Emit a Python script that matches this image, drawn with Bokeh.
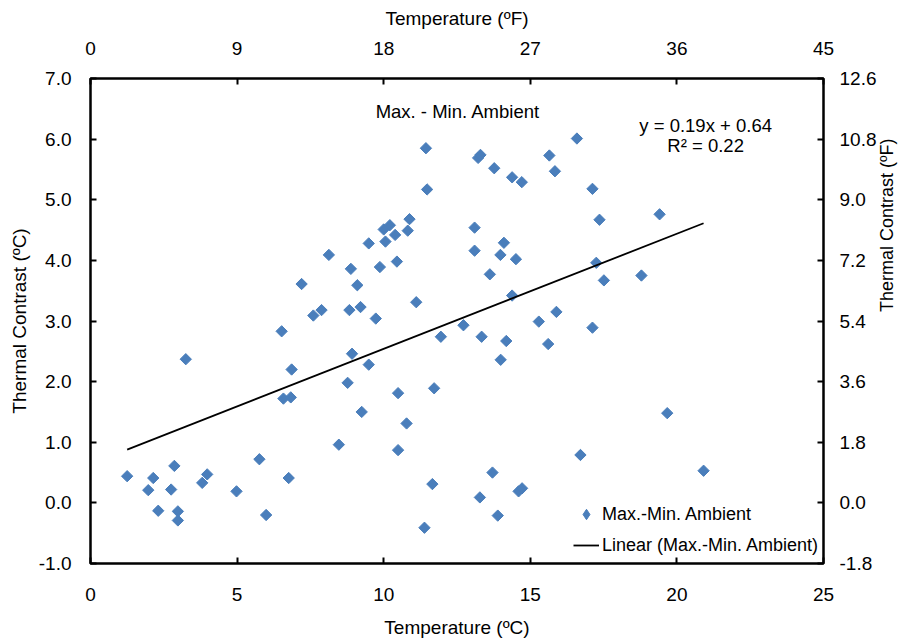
import math
from bokeh.plotting import figure
from bokeh.models import (Range1d, LinearAxis, FixedTicker, PrintfTickFormatter,
                          Label, Legend, LegendItem, ColumnDataSource)
from bokeh.embed import file_html
from bokeh.resources import INLINE

# ---- data ----
temp_c = [1.25, 1.97, 2.14, 2.31, 2.86, 2.75, 2.98, 2.98, 3.25, 3.81, 3.98, 4.98,
          5.76, 5.99, 6.52, 6.86, 6.58, 6.83, 6.76, 8.47, 8.13, 7.20, 7.60, 7.88,
          11.44, 11.48, 13.22, 13.30, 13.77, 14.38, 14.71, 15.65, 15.84, 16.59,
          8.88, 9.49, 10.00, 10.21, 10.39, 10.06, 10.88, 10.82, 9.87, 10.45, 9.10,
          8.83, 9.21, 9.73, 11.11, 13.10, 13.10, 14.10, 13.98, 14.51, 13.62, 14.38,
          12.72, 15.29, 15.89, 11.95, 13.34, 14.18, 15.61, 13.99, 8.92, 9.49, 8.77,
          10.49, 11.72, 9.25, 10.78, 10.49, 13.71, 11.66, 13.28, 14.60, 14.72, 13.89,
          11.39, 16.71, 17.12, 17.36, 19.41, 17.25, 17.51, 18.79, 17.12, 19.67, 20.91]
contrast_c = [0.44, 0.21, 0.41, -0.13, 0.61, 0.22, -0.14, -0.29, 2.37, 0.33, 0.47, 0.19,
              0.72, -0.20, 2.83, 2.20, 1.72, 1.74, 0.41, 0.96, 4.09, 3.61, 3.09, 3.18,
              5.85, 5.17, 5.69, 5.74, 5.52, 5.37, 5.29, 5.73, 5.47, 6.01,
              3.86, 4.28, 4.51, 4.58, 4.42, 4.31, 4.68, 4.49, 3.89, 3.98, 3.59,
              3.18, 3.23, 3.04, 3.31, 4.54, 4.16, 4.29, 4.09, 4.02, 3.77, 3.42,
              2.93, 2.99, 3.15, 2.74, 2.74, 2.67, 2.62, 2.36, 2.46, 2.28, 1.98,
              1.81, 1.89, 1.50, 1.31, 0.87, 0.50, 0.31, 0.09, 0.19, 0.24, -0.21,
              -0.41, 0.79, 5.18, 4.67, 4.76, 3.96, 3.67, 3.75, 2.89, 1.48, 0.53]

trend_slope = 0.19
trend_intercept = 0.64
r_squared = 0.22

x_ticks_c = [0, 5, 10, 15, 20, 25]
y_ticks_c = [-1, 0, 1, 2, 3, 4, 5, 6, 7]
x_ticks_f = [0, 9, 18, 27, 36, 45]
y_ticks_f = [-1.8, 0.0, 1.8, 3.6, 5.4, 7.2, 9.0, 10.8, 12.6]

series_name = "Max.-Min. Ambient"
trend_name = "Linear (Max.-Min. Ambient)"
chart_title = "Max. - Min. Ambient"
right_title = "Thermal Contrast (ºF)"

FONT = "Liberation Sans"
BLUE = "#4A7EBB"

x0, x1 = x_ticks_c[0], x_ticks_c[-1]
y0, y1 = y_ticks_c[0], y_ticks_c[-1]

p = figure(width=900, height=644, output_backend="svg", toolbar_location=None,
           x_range=Range1d(x0, x1), y_range=Range1d(y0, y1),
           x_axis_location=None, y_axis_location=None,
           min_border_left=90, min_border_right=77, min_border_top=78, min_border_bottom=81)
p.extra_x_ranges = {"f": Range1d(x0 * 1.8, x1 * 1.8)}
p.extra_y_ranges = {"f": Range1d(y0 * 1.8, y1 * 1.8)}
p.xgrid.visible = False
p.ygrid.visible = False
p.outline_line_color = "black"
p.outline_line_width = 2.5
p.background_fill_color = "white"
p.border_fill_color = "white"


def style(ax, label, fmt):
    ax.axis_label = label
    ax.axis_line_color = None
    ax.major_tick_in = 6
    ax.major_tick_out = 0
    ax.major_tick_line_width = 2
    ax.major_tick_line_color = "black"
    ax.minor_tick_line_color = None
    ax.major_label_text_font = FONT
    ax.major_label_text_font_size = "19px"
    ax.major_label_text_color = "black"
    ax.axis_label_text_font = FONT
    ax.axis_label_text_font_size = "19px"
    ax.axis_label_text_font_style = "normal"
    ax.axis_label_text_color = "black"
    if fmt:
        ax.formatter = PrintfTickFormatter(format=fmt)


bottom = LinearAxis(ticker=FixedTicker(ticks=x_ticks_c))
style(bottom, "Temperature (ºC)", None)
bottom.major_label_standoff = 24
bottom.axis_label_standoff = 13
p.add_layout(bottom, "below")

top = LinearAxis(x_range_name="f", ticker=FixedTicker(ticks=x_ticks_f))
style(top, "Temperature (ºF)", None)
top.major_label_standoff = 24
top.axis_label_standoff = 10
p.add_layout(top, "above")

left = LinearAxis(ticker=FixedTicker(ticks=y_ticks_c))
style(left, "Thermal Contrast (ºC)", "%.1f")
left.major_label_standoff = 19
left.axis_label_standoff = 6
p.add_layout(left, "left")

right = LinearAxis(y_range_name="f", ticker=FixedTicker(ticks=y_ticks_f))
style(right, None, "%.1f")
right.major_label_standoff = 16
p.add_layout(right, "right")

# right axis title (reads bottom-to-top, set tight against the tick labels)
p.add_layout(Label(x=27.18, y=4.58, text=right_title, angle=math.pi / 2,
                   text_align="center", text_baseline="middle", text_font=FONT,
                   text_font_size="18px", text_color="black"), "right")

src = ColumnDataSource(dict(x=temp_c, y=contrast_c))
pts = p.scatter("x", "y", source=src, marker="square", size=8, angle=math.pi / 4,
                fill_color=BLUE, line_color=BLUE)
# legend swatch for the series (Bokeh's legend draws markers unrotated)
swatch = p.scatter(x=[float("nan")], y=[float("nan")], marker="diamond",
                   fill_color=BLUE, line_color=BLUE)

tx = [min(temp_c), max(temp_c)]
ty = [trend_slope * v + trend_intercept for v in tx]
ln = p.line(tx, ty, line_color="black", line_width=1.8)

legend = Legend(items=[LegendItem(label=series_name, renderers=[swatch]),
                       LegendItem(label=trend_name, renderers=[ln])],
                location=(483, 4), border_line_alpha=0, background_fill_alpha=0,
                padding=0, margin=0, spacing=3, glyph_width=26, glyph_height=28,
                label_standoff=3, label_text_font=FONT, label_text_font_size="18px",
                label_text_color="black")
p.add_layout(legend, "center")

p.add_layout(Label(x=12.53, y=6.46, text=chart_title, text_align="center",
                   text_baseline="middle", text_font=FONT, text_font_size="18.5px",
                   text_color="black"))
p.add_layout(Label(x=20.98, y=6.23, text=f"y = {trend_slope:.2f}x + {trend_intercept:.2f}",
                   text_align="center", text_baseline="middle", text_font=FONT,
                   text_font_size="18.5px", text_color="black"))
p.add_layout(Label(x=20.98, y=5.89, text=f"R² = {r_squared:.2f}",
                   text_align="center", text_baseline="middle", text_font=FONT,
                   text_font_size="18.5px", text_color="black"))

open("out.html", "w").write(file_html(p, INLINE))
